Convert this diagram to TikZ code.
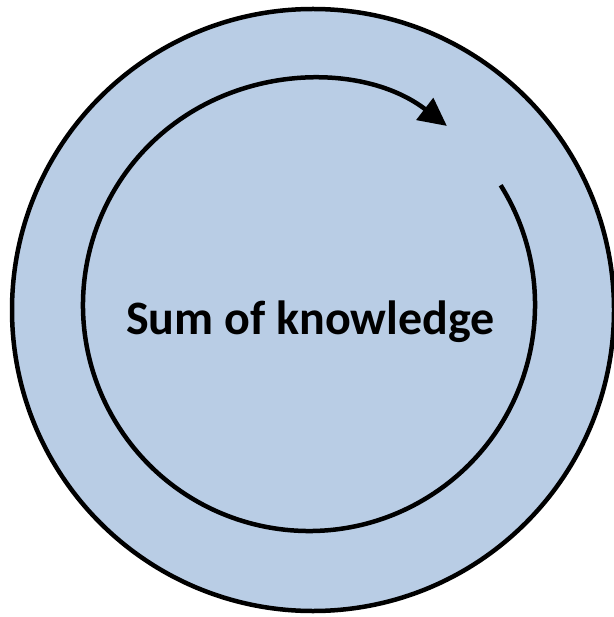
\documentclass[tikz,border=0pt]{standalone}
\usepackage{fontspec}
\setmainfont{Carlito}
\usetikzlibrary{arrows.meta,calc}
\definecolor{ringblue}{RGB}{185,205,229}
\tikzset{
  ring/.style={draw=black, fill=ringblue, circle, line width=4.5pt, inner sep=0pt, minimum size=602pt},
  cycle/.style={draw=black, line width=4.5pt, -{Triangle[length=28pt,width=27pt]}},
  label/.style={font=\bfseries\fontsize{48}{54}\selectfont, anchor=base, inner sep=0pt}
}
\begin{document}
\begin{tikzpicture}[x=1pt,y=-1pt]
\useasboundingbox (0,0) rectangle (613,617);
\node[ring] (outer) at (313,310) {};
\coordinate (c) at (309,305);
\node[label] (txt) at (310.5,334) {Sum of knowledge};
\draw[cycle] ($(c)+(-32:226)$) arc[start angle=-32, end angle=307.6, radius=226];
\end{tikzpicture}
\end{document}
